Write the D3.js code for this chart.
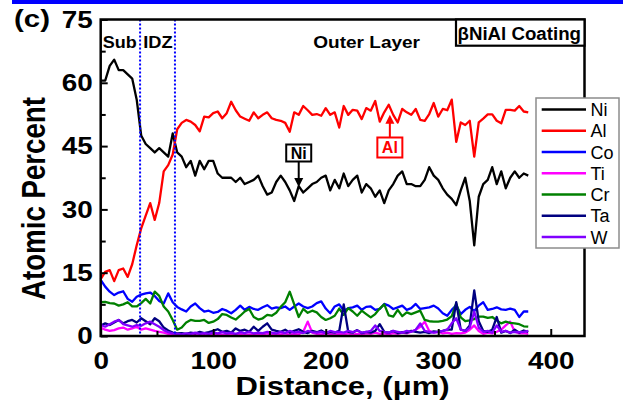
<!DOCTYPE html>
<html><head><meta charset="utf-8">
<script src="https://cdn.jsdelivr.net/npm/d3@7/dist/d3.min.js"></script>
<style>html,body{margin:0;padding:0;background:#fff;} svg{display:block;}</style>
</head><body>
<svg id="chart" width="632" height="405"></svg>
<script>
const distance = [0,4,8,12,16,20,24,28,32,36,40,44,48,52,56,60,64,68,72,76,80,84,88,92,96,100,104,108,112,116,120,124,128,132,136,140,144,148,152,156,160,164,168,172,176,180,184,188,192,196,200,204,208,212,216,220,224,228,232,236,240,244,248,252,256,260,264,268,272,276,280,284,288,292,296,300,304,308,312,316,320,324,328,332,336,340,344,348,352,356,360,364,368,372,376,380];
const ni = [60.5,60.5,64,65.5,63,63,62,61,56,47.5,45.5,44.5,43.5,44.5,43.5,42.5,48,43.5,42.5,40,41.5,38,41.5,39.5,41.5,41.5,38.5,37.5,37.5,37.5,36.5,37.5,36,36.5,37,38,35.5,33.5,34,36.5,38,36.5,34.5,32,35.5,34,35,36,36.5,37.5,38,34.5,37,35,38.5,35.5,37,38,34,36,35,33,34.5,31.5,34.5,36,38,39,36,36,35.5,35.5,37,40,38,37,35,33.5,32.5,31,34.5,37.5,32,21.5,33,36,37,40,36,39,35,37.5,39,37.5,38.5,38];
const al = [13.5,15.2,15.6,13,15.6,16,14,17,21.5,25.5,28.5,31.5,27.5,31.5,39,40.5,43,49,50.5,51.2,50.8,50,48.5,52,51.8,52.8,53.2,51.6,52.8,55.5,53.5,52,51.5,51,53,51.6,52.4,53,51.6,51.2,51,50.5,48.4,53,52.4,54.5,53.5,52.4,52.6,52.2,54,52.4,53,49.4,54.5,52.4,53.6,53.4,51.4,54,53.4,55.7,50.8,53,54.8,52.4,50.6,53.8,53,52.4,53.8,51.2,51,52.6,55.2,52,53.8,53.5,56,46,50.6,50,51,42.5,50.6,51.5,52.5,52.5,51,50.4,53.6,53.6,53.4,54.5,53.2,53];
const co = [13.3,11.7,10.5,9.7,10.3,10.6,8.8,8.1,9.3,9.8,10.1,10.3,9.5,8.3,7.7,10.1,8,6.9,6.3,5.8,7,7.7,6.6,5.8,6,5.5,5.7,6.4,6,5.4,6.2,7.2,6.2,6.9,6.4,6.2,6.8,7.3,6.5,6.8,6.6,7,6.2,7,7.7,7,6.6,7,7.8,8.2,6.5,5.4,7,7.5,6,6.6,6.8,7.2,6.2,6.9,7,6.2,6.4,7.6,7.2,6.4,6.8,7.2,6.2,6.6,7.6,6.4,6.6,6.8,7.2,6.5,5.4,4.8,6.2,7.3,5.2,6.2,6.9,5.9,7.2,8,6.2,6.4,6.8,6.3,6.2,6.5,6.2,4.5,5.8,5.8];
const ti = [2,1.5,1.2,1.4,1.8,2,1.5,1.8,2.2,1.5,1.8,1.5,1.2,1,0.8,0.5,0.3,0.2,0.3,0.4,0.2,0.3,0.2,0.4,0.3,0.2,0.5,0.3,0.2,0.4,0.3,0.5,0.2,0.4,0.3,0.5,0.4,0.6,0.3,0.5,0.4,0.6,0.3,0.5,0.4,1,3.4,0.8,0.5,0.4,0.6,0.5,0.3,0.5,0.4,0.6,0.3,0.5,0.4,0.6,0.5,0.8,0.5,0.6,0.4,0.7,0.5,0.8,0.6,1,1.5,2.2,3.4,1.2,0.8,1,0.6,0.8,0.5,0.7,0.6,0.8,1.5,2.5,1.2,0.5,0.8,0.6,1,1.5,2.5,3.4,1,0.6,0.7,0.5];
const cr = [8,8.1,7.8,7.7,7.2,7.5,8,7,7,7.8,8.8,7.7,10.5,9.5,7,5.8,3.8,1.5,2,3.2,3.8,3.6,3.6,3.8,3.1,3.4,4,5.2,5,4.4,3.9,4.8,5.8,6.4,4.5,3.9,4.2,5,4.8,5.5,6.9,8,10.5,7.5,4.5,6.4,5.5,6,5.6,4.5,3.8,4.2,4.8,6.5,5,6.6,5.8,4.8,6,5.2,4.4,5.2,6.5,7.5,4.9,4.6,6.2,4.7,5.6,5.2,5.6,6,3.8,3.5,3.4,3.4,3.6,3.9,4.7,7.7,4.4,3.5,3.7,4,4.6,4.6,4.3,4.5,3.7,3,3.4,3.1,3,2.8,2.3,2.2];
const ta = [2.5,3,2.6,3.2,3.8,3,3.5,3.8,3.2,4.2,3.5,2.8,4.2,3.5,2,1.3,0.8,0.6,0.7,0.5,0.8,0.6,1,0.7,0.9,1.2,1.6,1,1.2,0.8,1.8,1.2,1.5,1,2.2,1.2,2.2,3,1.5,1.2,1,1.5,0.8,1.2,1.6,1,0.7,1.2,0.9,1.3,0.7,1,0.8,1.2,7.5,1,0.8,1.4,0.7,1,0.8,1.2,2.8,1,0.8,1.2,0.7,0.9,0.8,1.2,1,0.8,1,0.7,1.1,1,1.2,1.5,1.5,8,1.5,1.2,2.5,10.8,3.5,1.2,1,1.5,4.5,0.8,1.2,0.7,1.5,0.8,1.3,1];
const w = [2.6,2.2,2.8,3.4,3.8,2.8,2.5,2.2,2.6,2.4,3,3.4,2.8,2.2,1.4,0.9,0.6,0.5,0.4,0.6,0.5,0.8,0.5,0.7,0.5,0.8,0.6,0.9,0.6,0.8,0.5,0.9,0.7,1,0.6,0.8,0.7,1,0.8,0.6,1,0.7,1.2,0.8,1,0.7,1.2,0.9,0.8,1,0.7,1.2,0.9,1,0.8,1.2,0.9,1.3,0.8,1,1.2,2.5,1.2,1,0.8,1.2,1,0.8,1.2,1,1.5,3,1.2,1,0.8,1,1.2,1.5,3,4.2,1.5,1.2,2,5.8,2,1,1.2,0.8,2.5,1,1.2,0.8,1,0.9,1,1.2];

const seriesNames = ["Ni","Al","Co","Ti","Cr","Ta","W"];
const seriesValues = [ni, al, co, ti, cr, ta, w];
const seriesColors = ["#000000","#ff0000","#0000ff","#ff00ff","#008000","#000080","#8000ff"];
const yTicks = [0,15,30,45,60,75];
const yMinor = [7.5,22.5,37.5,52.5,67.5];
const xTicks = [0,100,200,300,400];
const xMinor = [50,150,250,350];
const zoneBounds = [35,66];

const F = "'Liberation Sans', Arial, sans-serif";
const svg = d3.select("#chart");
const L = 100.7, R = 584.5, T = 19.5, B = 336;
const x = d3.scaleLinear().domain([0,430]).range([L,R]);
const y = d3.scaleLinear().domain([0,75]).range([B,T]);

// top blue band
svg.append("rect").attr("x",12).attr("y",0).attr("width",611).attr("height",4).attr("fill","#0000ff");

// data lines
const line = d3.line().x((d,i)=>x(distance[i])).y(d=>y(d));
seriesValues.forEach((vals,k)=>{
  svg.append("path").datum(vals).attr("d",line)
    .attr("fill","none").attr("stroke",seriesColors[k]).attr("stroke-width",2.3).attr("stroke-linejoin","round");
});

// zone boundaries
zoneBounds.forEach(b=>{
  svg.append("line").attr("x1",x(b)).attr("x2",x(b)).attr("y1",T).attr("y2",B)
    .attr("stroke","#0000ff").attr("stroke-width",2).attr("stroke-dasharray","2,2");
});

// axes
function styleLabels(g){
  g.select(".domain").remove();
  g.selectAll(".tick line").attr("stroke","#000").attr("stroke-width",2);
  g.selectAll(".tick text").attr("font-family",F).attr("font-weight","bold").attr("font-size",24).attr("fill","#000")
   .attr("textLength",function(){return this.textContent.length*15.5;}).attr("lengthAdjust","spacingAndGlyphs");
}
svg.append("g").attr("transform",`translate(${L},0)`)
  .call(d3.axisLeft(y).tickValues(yTicks).tickSizeInner(-7).tickSizeOuter(0).tickPadding(8))
  .call(styleLabels);
svg.append("g").attr("transform",`translate(${L},0)`)
  .call(d3.axisLeft(y).tickValues(yMinor).tickSizeInner(-5).tickSizeOuter(0).tickFormat(""))
  .call(g=>{g.select(".domain").remove(); g.selectAll(".tick line").attr("stroke","#000").attr("stroke-width",2);});
svg.append("g").attr("transform",`translate(0,${B})`)
  .call(d3.axisBottom(x).tickValues(xTicks).tickSizeInner(-7).tickSizeOuter(0).tickPadding(16))
  .call(styleLabels);
svg.append("g").attr("transform",`translate(0,${B})`)
  .call(d3.axisBottom(x).tickValues(xMinor).tickSizeInner(-5).tickSizeOuter(0).tickFormat(""))
  .call(g=>{g.select(".domain").remove(); g.selectAll(".tick line").attr("stroke","#000").attr("stroke-width",2);});

// frame
svg.append("rect").attr("x",L).attr("y",T).attr("width",R-L).attr("height",B-T)
  .attr("fill","none").attr("stroke","#000").attr("stroke-width",2.5);

// axis titles
svg.append("text").attr("x",(L+R)/2).attr("y",395).attr("text-anchor","middle")
  .attr("font-family",F).attr("font-weight","bold").attr("font-size",25)
  .attr("textLength",214).attr("lengthAdjust","spacingAndGlyphs").text("Distance, (μm)");
svg.append("text").attr("transform","translate(45,198.5) scale(1.2,1) rotate(-90)").attr("text-anchor","middle")
  .attr("font-family",F).attr("font-weight","bold").attr("font-size",27)
  .attr("textLength",203).attr("lengthAdjust","spacingAndGlyphs").text("Atomic Percent");
svg.append("text").attr("x",14).attr("y",27).attr("font-family",F).attr("font-weight","bold").attr("font-size",24)
  .attr("textLength",36).attr("lengthAdjust","spacingAndGlyphs").text("(c)");

// region labels
function lab(t,x0,x1,base,fs){
  svg.append("text").attr("x",x0).attr("y",base).attr("font-family",F).attr("font-weight","bold").attr("font-size",fs)
    .attr("textLength",x1-x0).attr("lengthAdjust","spacingAndGlyphs").text(t);
}
lab("Sub",102.7,136.7,48,17);
lab("IDZ",143.3,172.7,48,17);
lab("Outer Layer",313.3,420,48,16);

// coating box
svg.append("rect").attr("x",456).attr("y",T).attr("width",R-456).attr("height",26.2)
  .attr("fill","#fff").attr("stroke","#000").attr("stroke-width",2.2);
lab("βNiAl Coating",457.5,581,39.5,17.5);

// annotations
function annot(t,cx,boxTop,boxH,tipY,color,up){
  const g = svg.append("g");
  const bw = 25;
  if(up){
    g.append("line").attr("x1",cx).attr("x2",cx).attr("y1",boxTop).attr("y2",tipY+7).attr("stroke",color).attr("stroke-width",2);
    g.append("path").attr("d",`M${cx},${tipY} L${cx-4.5},${tipY+9} L${cx+4.5},${tipY+9} Z`).attr("fill",color);
  } else {
    g.append("line").attr("x1",cx).attr("x2",cx).attr("y1",boxTop+boxH).attr("y2",tipY-7).attr("stroke",color).attr("stroke-width",2);
    g.append("path").attr("d",`M${cx},${tipY} L${cx-4.5},${tipY-9} L${cx+4.5},${tipY-9} Z`).attr("fill",color);
  }
  g.append("rect").attr("x",cx-bw/2).attr("y",boxTop).attr("width",bw).attr("height",boxH)
    .attr("fill","#fff").attr("stroke",color).attr("stroke-width",2);
  g.append("text").attr("x",cx).attr("y",boxTop+boxH/2+5.8).attr("text-anchor","middle")
    .attr("font-family",F).attr("font-weight","bold").attr("font-size",16).attr("fill",color).text(t);
}
annot("Ni",x(176),144.5,17,y(35.3),"#000",false);
annot("Al",x(257),137.5,20,y(52.4),"#ff0000",true);

// legend
const lg = svg.append("g");
lg.append("rect").attr("x",536).attr("y",98).attr("width",83).attr("height",150)
  .attr("fill","#fff").attr("stroke","#8c8c8c").attr("stroke-width",1.5);
seriesNames.forEach((n,i)=>{
  const yy = 109.5 + i*21.25;
  lg.append("line").attr("x1",541.7).attr("x2",586).attr("y1",yy).attr("y2",yy)
    .attr("stroke",seriesColors[i]).attr("stroke-width",2.5);
  lg.append("text").attr("x",590.5).attr("y",yy+6.5).attr("font-family",F).attr("font-size",18).attr("fill","#000").text(n);
});
</script>
</body></html>
